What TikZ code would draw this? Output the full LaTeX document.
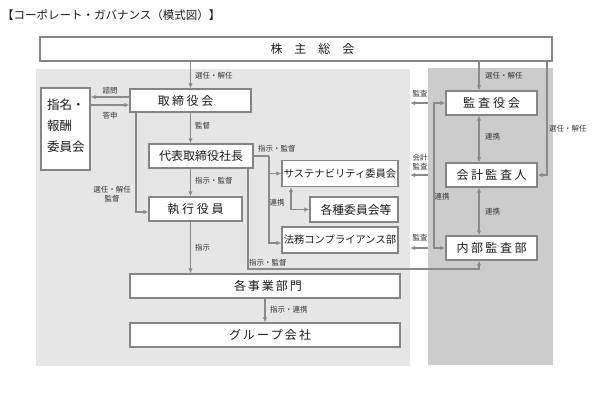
\documentclass[tikz,border=0pt]{standalone}
\usepackage{fontspec}
\setmainfont{Noto Sans CJK JP}
\usetikzlibrary{arrows.meta}
\definecolor{lg}{HTML}{E6E6E6}
\definecolor{dg}{HTML}{CCCCCC}
\definecolor{ln}{HTML}{8A8A8A}
\definecolor{bd}{HTML}{858585}
\definecolor{tx}{HTML}{1A1A1A}
\definecolor{lt}{HTML}{333333}
\tikzset{
  box/.style={draw=bd, line width=1.3pt, fill=white, inner sep=0pt, text=tx,
    font=\fontsize{12}{14}\selectfont},
  lab/.style={font=\fontsize{7.5}{9}\selectfont, text=lt, inner sep=0pt},
  region/.style={inner sep=0pt, draw=none},
  conn/.style={draw=ln, line width=1.1pt, -{Latex[length=5pt,width=4.5pt]}},
  plain/.style={draw=ln, line width=1.1pt},
  both/.style={draw=ln, line width=1.1pt, {Latex[length=5pt,width=4.5pt]}-{Latex[length=5pt,width=4.5pt]}}
}
\begin{document}
\begin{tikzpicture}[x=1pt,y=-1pt]
\useasboundingbox (0,0) rectangle (602,401);
\fill[white] (0,0) rectangle (602,401);

% title
\node[anchor=west, inner sep=0pt, font=\fontsize{11.5}{13}\selectfont, text=tx] (title) at (2,15) {【コーポレート・ガバナンス（模式図）】};

% regions
\node[region, fill=lg, minimum width=374pt, minimum height=297pt] (left) at (223,217.5) {};
\node[region, fill=dg, minimum width=125pt, minimum height=297pt] (right) at (490.5,216.5) {};

% helper coordinates
\coordinate (xm) at (190.5,0);
\coordinate (xa) at (479,0);
\coordinate (xb) at (547,0);
\coordinate (xc) at (136,0);
\coordinate (xd) at (269,0);
\coordinate (xe) at (291,0);
\coordinate (xf) at (248,0);
\coordinate (xg) at (434,0);
\coordinate (yh) at (0,269);

% boxes
\node[box, minimum width=512pt, minimum height=24pt] (share) at (296,49) {\kern33pt株\kern12pt主\kern12pt総\kern12pt会};
\node[box, minimum width=49pt, minimum height=82pt] (nom) at (65.5,129) {};
\node[anchor=west, align=left, inner sep=0pt, text=tx, font=\fontsize{12.5}{21}\selectfont] (nomt) at (47,126) {指名・\\報酬\\委員会};
\node[box, minimum width=121pt, minimum height=23pt] (board) at (190.5,100.5) {\kern-10pt取\kern2.5pt締\kern2.5pt役\kern2.5pt会};
\node[box, minimum width=104pt, minimum height=24pt] (ceo) at (201,156) {代表取締役社長};
\node[box, minimum width=93pt, minimum height=24pt] (exec) at (195.5,209) {執\kern2.7pt行\kern2.7pt役\kern2.7pt員};
\node[box, minimum width=116pt, minimum height=26pt, font=\fontsize{10.3}{12}\selectfont] (sus) at (340,173.5) {サステナビリティ委員会};
\node[box, minimum width=88pt, minimum height=25pt, font=\fontsize{11.8}{13}\selectfont] (com) at (354,209.5) {\kern4pt各種委員会等};
\node[box, minimum width=116pt, minimum height=26pt, font=\fontsize{10.3}{12}\selectfont] (legal) at (340,240) {法務コンプライアンス部};
\node[box, minimum width=270pt, minimum height=24pt] (div) at (265,286) {\kern6pt各\kern2pt事\kern2pt業\kern2pt部\kern2pt門};
\node[box, minimum width=270pt, minimum height=24pt] (grp) at (265,335) {\kern10ptグ\kern2ptル\kern2ptー\kern2ptプ\kern2pt会\kern2pt社};
\node[box, minimum width=91pt, minimum height=24pt] (kansa) at (491.5,103) {監\kern3pt査\kern3pt役\kern3pt会};
\node[box, minimum width=91pt, minimum height=24pt] (auditor) at (491.5,175) {会\kern2.5pt計\kern2.5pt監\kern2.5pt査\kern2.5pt人};
\node[box, minimum width=91pt, minimum height=24pt] (internal) at (491.5,248) {内\kern2.5pt部\kern2.5pt監\kern2.5pt査\kern2.5pt部};

% connectors (left)
\draw[conn] (share.south -| xm) -- (board.north -| xm);
\draw[conn] ([yshift=3.5pt]board.west) -- ([yshift=3.5pt]board.west -| nom.east);
\draw[conn] ([yshift=-4.5pt]board.west -| nom.east) -- ([yshift=-4.5pt]board.west);
\draw[conn] (board.south -| xm) -- (ceo.north -| xm);
\draw[conn] (board.south -| xc) |- ([yshift=-3pt]exec.west);
\draw[conn] (ceo.south -| xm) -- (exec.north -| xm);
\draw[conn] (exec.south -| xm) -- (div.north -| xm);
\draw[plain] (ceo.east) -- (ceo.east -| xd);
\draw[conn] (ceo.east -| xd) |- (sus.west);
\draw[conn] (ceo.east -| xd) |- ([yshift=-3pt]legal.west);
\draw[both] (sus.south -| xe) |- (com.west);
\draw[conn] (ceo.south -| xf) |- (yh -| xa) -- (internal.south -| xa);
\draw[conn] (div.south) -- (grp.north);

% connectors (right)
\draw[conn] (share.south -| xa) -- (kansa.north -| xa);
\draw[conn] (share.south -| xb) |- (auditor.east);
\draw[both] (kansa.south -| xa) -- (auditor.north -| xa);
\draw[both] (auditor.south -| xa) -- (internal.north -| xa);
\draw[both] (kansa.west) -- (kansa.west -| xg) |- (internal.west);
\draw[conn] (right.west |- kansa.west) -- (left.east |- kansa.west);
\draw[conn] (right.west |- auditor.west) -- (left.east |- auditor.west);
\draw[conn] (right.west |- internal.west) -- (left.east |- internal.west);

% labels
\node[lab, anchor=west] (l1) at (195,76) {選任・解任};
\node[lab, anchor=west] (l2) at (485,76) {選任・解任};
\node[lab, anchor=west] (l3) at (549,129) {選任・解任};
\node[lab] (l4) at (110,91) {諮問};
\node[lab] (l5) at (110,116) {答申};
\node[lab, anchor=west] (l6) at (195,126) {監督};
\node[lab, align=center] (l7) at (112,194.5) {選任・解任\\監督};
\node[lab, anchor=west] (l8) at (195,181) {指示・監督};
\node[lab, anchor=west] (l9) at (195,248) {指示};
\node[lab, anchor=west] (l10) at (258,149) {指示・監督};
\node[lab] (l11) at (277,203) {連携};
\node[lab, anchor=west] (l12) at (249,263) {指示・監督};
\node[lab, anchor=west] (l13) at (270,310) {指示・連携};
\node[lab, anchor=west] (l14) at (485,137) {連携};
\node[lab, anchor=west] (l15) at (485,212) {連携};
\node[lab] (l16) at (442,197) {連携};
\node[lab] (l17) at (420,94) {監査};
\node[lab, align=center] (l18) at (420,162.5) {会計\\監査};
\node[lab] (l19) at (420,238) {監査};
\end{tikzpicture}
\end{document}
